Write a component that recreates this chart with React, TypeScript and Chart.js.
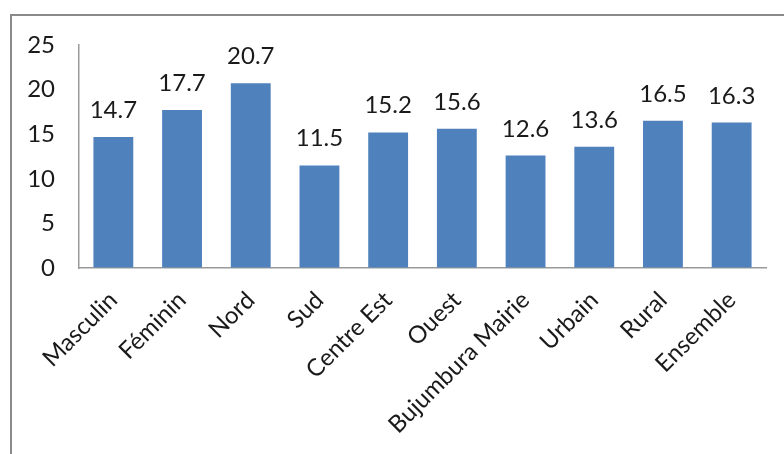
import React, { useEffect, useRef } from "react";
import { Chart, registerables } from "chart.js";

Chart.register(...registerables);

const categories = ["Masculin", "Féminin", "Nord", "Sud", "Centre Est", "Ouest", "Bujumbura Mairie", "Urbain", "Rural", "Ensemble"];
const values = [14.7, 17.7, 20.7, 11.5, 15.2, 15.6, 12.6, 13.6, 16.5, 16.3];
const yTicks = [0, 5, 10, 15, 20, 25];

const FONT = "Lato, 'Open Sans', sans-serif";

const labelPlugin = {
  id: "valueLabels",
  afterDatasetsDraw(chart: any) {
    const ctx = chart.ctx;
    const meta = chart.getDatasetMeta(0);
    ctx.save();
    ctx.font = `24px ${FONT}`;
    ctx.fillStyle = "#1a1a1a";
    ctx.textAlign = "center";
    ctx.textBaseline = "alphabetic";
    meta.data.forEach((bar: any, i: number) => {
      ctx.fillText(values[i].toFixed(1), bar.x, bar.y - 19);
    });
    ctx.restore();
  },
};

export default function App() {
  const ref = useRef<HTMLCanvasElement>(null);
  useEffect(() => {
    document.body.style.margin = "0";
    const chart = new Chart(ref.current!, {
      type: "bar",
      data: {
        labels: categories,
        datasets: [
          {
            data: values,
            backgroundColor: "#4F81BD",
            borderWidth: 0,
            categoryPercentage: 1,
            barPercentage: 0.58,
          },
        ],
      },
      options: {
        animation: false,
        responsive: false,
        maintainAspectRatio: false,
        layout: { padding: { top: 45, right: 18, left: 0, bottom: 0 } },
        plugins: { legend: { display: false }, tooltip: { enabled: false } },
        scales: {
          x: {
            grid: { display: true, drawOnChartArea: false, drawTicks: false },
            border: { display: true, color: "#9a9a9a", width: 1.5 },
            ticks: {
              maxRotation: 45,
              minRotation: 45,
              autoSkip: false,
              padding: 18,
              color: "#1a1a1a",
              font: { family: FONT, size: 24 },
            },
            afterFit: (s: any) => {
              s.height = 186;
            },
          },
          y: {
            min: 0,
            max: 25,
            afterBuildTicks: (s: any) => {
              s.ticks = yTicks.map((v) => ({ value: v }));
            },
            grid: { display: true, drawOnChartArea: false, drawTicks: false },
            border: { display: true, color: "#9a9a9a", width: 1.5 },
            ticks: {
              padding: 24,
              color: "#1a1a1a",
              font: { family: FONT, size: 24 },
            },
            afterFit: (s: any) => {
              s.width = 79;
            },
          },
        },
      },
      plugins: [labelPlugin],
    });
    return () => chart.destroy();
  }, []);
  return (
    <div style={{ position: "relative", width: 784, height: 454, overflow: "hidden", background: "#fff" }}>
      <div
        style={{
          position: "absolute",
          left: 10,
          top: 14,
          width: 800,
          height: 500,
          border: "2px solid #8a8a8a",
          boxSizing: "border-box",
        }}
      />
      <canvas ref={ref} width={784} height={454} style={{ position: "absolute", left: 0, top: 0 }} />
    </div>
  );
}
